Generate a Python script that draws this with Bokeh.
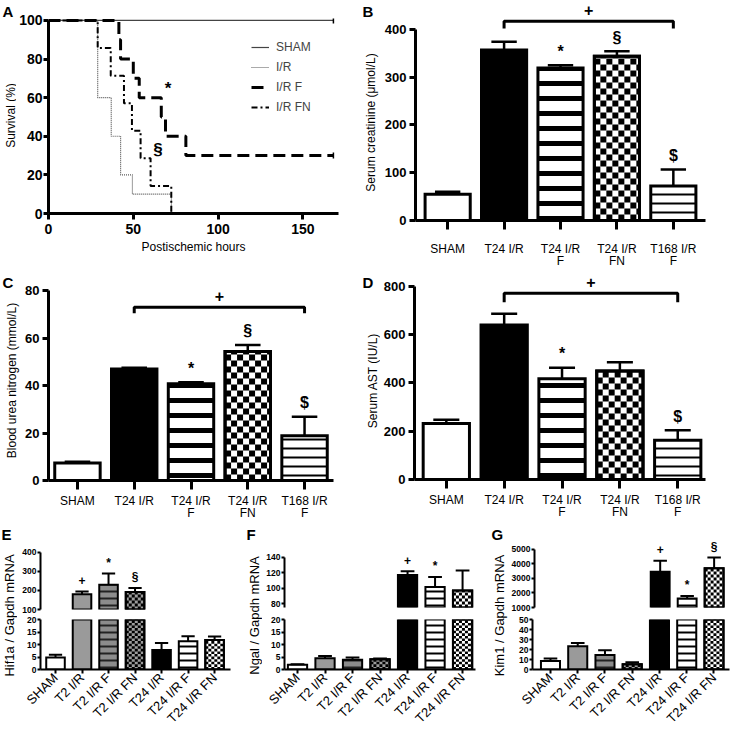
import math
from bokeh.plotting import figure
from bokeh.layouts import row, column
from bokeh.models import Range1d, FixedTicker
from bokeh.core.properties import value
from bokeh.embed import file_html
from bokeh.resources import INLINE

FONT = "Liberation Sans"
W_MAX, H_MAX = 732, 734
R1, R2 = 272, 524  # row boundaries


def px(v):
    return int(round(v))


# ---------------- data ----------------
# A: survival (%) vs postischemic hours
sham_hours = [0, 168]
sham_surv = [100, 100]
ir_hours = [0, 29, 37, 42.5, 49.5, 72.5]
ir_surv = [100, 60, 40, 20, 10, 0]
irf_hours = [0, 41.5, 42.5, 50, 53.5, 66.5, 69, 81, 168]
irf_surv = [100, 90, 80, 70, 60, 50, 40, 30, 30]
irfn_hours = [0, 29, 36.7, 44.5, 49.2, 54.3, 60.2, 72.4]
irfn_surv = [100, 85.7, 71.4, 57.1, 42.9, 28.6, 14.3, 0]
surv_marks = ["*", "§"]
surv_mark_hours = [70.5, 64.5]
surv_mark_surv = [65, 33]

# B-D
bd_groups = ["SHAM", "T24 I/R", "T24 I/R\nF", "T24 I/R\nFN", "T168 I/R\nF"]
creat_mean = [55, 357, 319, 344, 72]
creat_sem = [5, 17, 6, 10, 35]
creat_marks = ["", "", "*", "§", "$"]
creat_bracket = [402, 417]
bun_mean = [7.4, 47.0, 40.7, 54.3, 18.9]
bun_sem = [0.5, 0.5, 0.7, 2.8, 8.0]
bun_marks = ["", "", "*", "§", "$"]
bun_bracket = [70.5, 73]
ast_mean = [232, 640, 418, 450, 163]
ast_sem = [16, 47, 45, 36, 41]
ast_marks = ["", "", "*", "", "$"]
ast_bracket = [735, 772]

# E-G
qpcr_groups = ["SHAM", "T2 I/R", "T2 I/R F", "T2 I/R FN", "T24 I/R", "T24 I/R F", "T24 I/R FN"]
hif_mean = [4.8, 180, 230, 192, 7.8, 11.3, 11.8]
hif_sem = [1.1, 15, 59, 21, 2.8, 2.0, 1.4]
hif_marks = ["", "+", "*", "§", "", "", ""]
ngal_mean = [1.9, 4.5, 3.9, 4.1, 117, 101.5, 97]
ngal_sem = [0.2, 0.9, 0.9, 0.3, 5, 13, 26]
ngal_marks = ["", "", "", "", "+", "*", ""]
kim_mean = [8.6, 23.2, 14.4, 5.2, 3470, 1620, 3700]
kim_sem = [2.4, 3.3, 4.9, 2.0, 760, 180, 740]
kim_marks = ["", "", "", "", "+", "*", "§"]

# ---------------- styles ----------------
bd_styles = [
    dict(fill_color="white"),
    dict(fill_color="black"),
    dict(fill_color="white", hatch_pattern="horizontal_line", hatch_scale=15, hatch_weight=5, hatch_color="black"),
    dict(fill_color="white", checker=6, checker_color="black"),
    dict(fill_color="white", hatch_pattern="horizontal_line", hatch_scale=9, hatch_weight=2, hatch_color="black"),
]
qpcr_styles = [
    dict(fill_color="white"),
    dict(fill_color="#9a9a9a"),
    dict(fill_color="#8c8c8c", hatch_pattern="horizontal_line", hatch_scale=7, hatch_weight=2, hatch_color="#222222"),
    dict(fill_color="#9c9c9c", checker=3, checker_color="black"),
    dict(fill_color="black"),
    dict(fill_color="white", hatch_pattern="horizontal_line", hatch_scale=7, hatch_weight=2, hatch_color="black"),
    dict(fill_color="white", checker=3, checker_color="black"),
]


def no_align(p):
    if "frame_align" in p.properties():
        p.frame_align = False
    return p


def base_fig(box, frame, xr, yr, x_axis_location="below"):
    x0, y0, x1, y1 = box
    fx0, fy0, fx1, fy1 = frame
    p = figure(width=px(x1) - px(x0), height=px(y1) - px(y0), title=None,
               x_range=xr, y_range=yr, x_axis_location=x_axis_location,
               output_backend="svg", toolbar_location=None,
               min_border_left=px(fx0) - px(x0), min_border_right=px(x1) - px(fx1),
               min_border_top=px(fy0) - px(y0), min_border_bottom=px(y1) - px(fy1))
    no_align(p)
    p.outline_line_color = None
    p.grid.visible = False
    p.background_fill_color = "white"
    p.border_fill_color = "white"
    # pixel -> data conversion of the frame (used for checker squares)
    p.tags = [(xr.end - xr.start) / (px(fx1) - px(fx0)), (yr.end - yr.start) / (px(fy1) - px(fy0))]
    return p


def label_fig(x0, x1, y0, y1, letter_txt, letter_xy, ylabel, ylabel_xy, size="12px"):
    lab = figure(width=px(x1) - px(x0), height=px(y1) - px(y0), title=None,
                 x_range=Range1d(x0, x1), y_range=Range1d(y1, y0),
                 x_axis_location=None, y_axis_location=None,
                 min_border=0, min_border_left=0, min_border_right=0,
                 min_border_top=0, min_border_bottom=0,
                 output_backend="svg", toolbar_location=None)
    no_align(lab)
    lab.outline_line_color = None
    lab.grid.visible = False
    lab.border_fill_color = "white"
    lab.text(x=[letter_xy[0]], y=[letter_xy[1]], text=[letter_txt], text_align="left",
             text_baseline="top", text_font=value(FONT), text_font_style="bold",
             text_font_size="15px", text_color="black")
    lab.text(x=[ylabel_xy[0]], y=[ylabel_xy[1]], text=[ylabel], angle=math.pi / 2,
             text_align="center", text_baseline="middle", text_font=value(FONT),
             text_font_size=size, text_color="black")
    return lab


def style_axis(ax, line_w, tick_out, font_size, bold=True, standoff=3,
               label_size="12px", label_standoff=4):
    ax.axis_line_width = line_w
    ax.axis_line_color = "black"
    ax.major_tick_line_width = line_w
    ax.major_tick_line_color = "black"
    ax.major_tick_out = tick_out
    ax.major_tick_in = 0
    ax.minor_tick_line_color = None
    ax.major_label_standoff = standoff
    ax.major_label_text_font = FONT
    ax.major_label_text_font_size = font_size
    ax.major_label_text_font_style = "bold" if bold else "normal"
    ax.major_label_text_color = "black"
    ax.axis_label_text_font = FONT
    ax.axis_label_text_font_size = label_size
    ax.axis_label_text_font_style = "normal"
    ax.axis_label_text_color = "black"
    ax.axis_label_standoff = label_standoff


def mark_text(p, xs, ys, marks, size, offset):
    mk = [(x, y, m) for x, y, m in zip(xs, ys, marks) if m]
    if not mk:
        return
    p.text(x=[a[0] for a in mk], y=[a[1] for a in mk], text=[a[2] for a in mk],
           y_offset=offset, text_align="center", text_baseline="middle",
           text_font=value(FONT), text_font_style="bold", text_font_size=size,
           text_color="black")


def checker_quads(p, x, width, y_lo, y_hi, sq_px, color):
    dxpp, dypp = p.tags
    sx, sy = sq_px * dxpp, sq_px * dypp
    left0, right0 = x - width / 2, x + width / 2
    ncols = int(math.ceil(width / sx))
    nrows = int(math.ceil((y_hi - y_lo) / sy)) if y_hi > y_lo else 0
    L, R, B, T = [], [], [], []
    for r in range(nrows):
        for c in range(ncols):
            if (r + c) % 2 == 0:
                l = left0 + c * sx
                b = y_lo + r * sy
                L.append(l)
                R.append(min(l + sx, right0))
                B.append(b)
                T.append(min(b + sy, y_hi))
    if L:
        p.quad(left=L, right=R, bottom=B, top=T, fill_color=color, line_color=None)


def draw_bars(p, xs, means, sems, styles, width, lw, cap, elw, bottom=0, keep=None,
              chk_lo=0, chk_hi=None):
    idx = [i for i in range(len(xs)) if keep is None or keep(means[i])]
    for i in idx:
        kw = dict(styles[i])
        chk = kw.pop("checker", None)
        chk_col = kw.pop("checker_color", None)
        p.vbar(x=[xs[i]], top=[means[i]], bottom=bottom, width=width,
               line_color="black", line_width=lw, line_join="miter", **kw)
        if chk:
            hi = means[i] if chk_hi is None else min(means[i], chk_hi)
            checker_quads(p, xs[i], width, chk_lo, hi, chk, chk_col)
            p.vbar(x=[xs[i]], top=[means[i]], bottom=bottom, width=width, fill_color=None,
                   line_color="black", line_width=lw, line_join="miter")
    ex = [xs[i] for i in idx]
    em = [means[i] for i in idx]
    et = [means[i] + sems[i] for i in idx]
    if ex:
        p.segment(x0=ex, y0=em, x1=ex, y1=et, line_color="black", line_width=elw)
        p.segment(x0=[x - cap / 2 for x in ex], y0=et, x1=[x + cap / 2 for x in ex], y1=et,
                  line_color="black", line_width=elw)
    return [m + s for m, s in zip(means, sems)]


# ---------------- Panel A ----------------
labA = label_fig(0, 16, 0, R1, "A", (2, 2), "Survival (%)", (10, 115))
pA = base_fig((16, 0, 360, R1), (47, 18, 338, 213), Range1d(0, 171), Range1d(0, 101))
style_axis(pA.xaxis[0], 3, 6, "14px", True, 4, "12px", 3)
style_axis(pA.yaxis[0], 3, 5, "14px", True, 1)
pA.xaxis.ticker = FixedTicker(ticks=[0, 50, 100, 150])
pA.yaxis.ticker = FixedTicker(ticks=[0, 20, 40, 60, 80, 100])
pA.yaxis.bounds = (0, 100)
pA.xaxis.axis_label = "Postischemic hours"
pA.step(sham_hours, sham_surv, mode="after", line_color="#444444", line_width=1.2, legend_label="SHAM")
pA.step(ir_hours, ir_surv, mode="after", line_color="#555555", line_width=1.2, line_dash="1 1", legend_label="I/R")
pA.step(irf_hours, irf_surv, mode="after", line_color="black", line_width=3, line_dash="12 6", legend_label="I/R F")
pA.step(irfn_hours, irfn_surv, mode="after", line_color="black", line_width=2, line_dash="6 3 2 3", legend_label="I/R FN")
# censored survivors at the end of follow-up
pA.scatter(x=[sham_hours[-1], irf_hours[-1]], y=[sham_surv[-1], irf_surv[-1]], marker="dash",
           angle=math.pi / 2, size=6, line_color="black", line_width=1.5)
mark_text(pA, surv_mark_hours, surv_mark_surv, surv_marks, "17px", 0)
lg = pA.legend[0]
lg.location = (203, 98)
lg.label_text_font = FONT
lg.label_text_font_size = "12px"
lg.glyph_width = 18
lg.glyph_height = 16
lg.label_height = 16
lg.spacing = 4
lg.padding = 0
lg.margin = 0
lg.label_standoff = 7
lg.border_line_color = None
lg.background_fill_alpha = 0


# ---------------- Panels B-D ----------------
def bd_panel(box, frame, xr, y_end, yticks, means, sems, marks, bracket, x_standoff):
    p = base_fig(box, frame, Range1d(*xr), Range1d(0, y_end))
    xs = list(range(1, len(bd_groups) + 1))
    style_axis(p.yaxis[0], 3, 6, "13px", True, 3)
    style_axis(p.xaxis[0], 3, 9, "12px", False, x_standoff)
    p.yaxis.ticker = FixedTicker(ticks=yticks)
    p.yaxis.bounds = (0, yticks[-1])
    p.xaxis.ticker = FixedTicker(ticks=xs)
    p.xaxis.major_label_overrides = {x: g for x, g in zip(xs, bd_groups)}
    p.xaxis.major_label_text_line_height = 0.9
    tops = draw_bars(p, xs, means, sems, bd_styles, 0.8, 3, 0.45, 2.5)
    mark_text(p, xs, tops, marks, "16px", -14)
    bx0, bx1 = xs[1], xs[-1]
    p.line(x=[bx0, bx0, bx1, bx1], y=[bracket[0], bracket[1], bracket[1], bracket[0]],
           line_color="black", line_width=3)
    mark_text(p, [(bx0 + bx1) / 2], [bracket[1]], ["+"], "16px", -11)
    return p


labB = label_fig(360, 380, 0, R1, "B", (362, 2), "Serum creatinine (μmol/L)", (370, 122))
pB = bd_panel((380, 0, W_MAX, R1), (415, 5, 705, 220), (0.43, 5.57), 450, [0, 100, 200, 300, 400],
              creat_mean, creat_sem, creat_marks, creat_bracket, 12)
labC = label_fig(0, 20, R1, R2, "C", (2, R1 + 1), "Blood urea nitrogen (mmol/L)", (11, 380))
pC = bd_panel((20, R1, 360, R2), (48, 282, 333, 480), (0.49, 5.51), 83.4, [0, 20, 40, 60, 80],
              bun_mean, bun_sem, bun_marks, bun_bracket, 4)
labD = label_fig(360, 380, R1, R2, "D", (362, R1 + 1), "Serum AST (IU/L)", (372, 380))
pD = bd_panel((380, R1, W_MAX, R2), (413, 278, 705, 479), (0.45, 5.48), 833, [0, 200, 400, 600, 800],
              ast_mean, ast_sem, ast_marks, ast_bracket, 4)


# ---------------- Panels E-G ----------------
def qpcr_panel(cols, frame_x, xr_vals, letter_txt, ylabel, means, sems, marks,
               top_range, top_ticks, top_fy1, low_end, low_ticks):
    cx0, lx1, cx1 = cols
    fx0, fx1 = frame_x
    Y0, YS, Y1 = R2, 614, H_MAX
    lab = label_fig(cx0, lx1, Y0, Y1, letter_txt, (cx0 + 1, Y0 + 1), ylabel, (cx0 + 9, 615), "13px")

    xr = Range1d(*xr_vals)
    xs = list(range(1, len(qpcr_groups) + 1))
    top = base_fig((lx1, Y0, cx1, YS), (fx0, 540, fx1, top_fy1), xr, Range1d(*top_range),
                   x_axis_location=None)
    style_axis(top.yaxis[0], 2, 3, "8.5px", True, 1)
    top.yaxis.ticker = FixedTicker(ticks=top_ticks)
    top.yaxis.bounds = (top_range[0], top_ticks[-1])

    low = base_fig((lx1, YS, cx1, Y1), (fx0, 619, fx1, 677), xr, Range1d(0, low_end))
    style_axis(low.yaxis[0], 2, 3, "8.5px", True, 1)
    low.yaxis.ticker = FixedTicker(ticks=low_ticks)
    low.yaxis.bounds = (0, low_end)
    style_axis(low.xaxis[0], 2, 4, "13px", False, 2)
    low.xaxis.ticker = FixedTicker(ticks=xs)
    low.xaxis.major_label_overrides = {x: g for x, g in zip(xs, qpcr_groups)}
    low.xaxis.major_label_orientation = math.pi / 4

    lo = top_range[0]
    tops = draw_bars(top, xs, means, sems, qpcr_styles, 0.7, 2, 0.5, 2,
                     bottom=lo - (top_range[1] - lo) * 0.05, keep=lambda m: m > lo, chk_lo=lo)
    mark_text(top, xs, tops, marks, "12px", -11)
    draw_bars(low, xs, means, sems, qpcr_styles, 0.7, 2, 0.5, 2, chk_lo=0, chk_hi=low_end)
    return row(lab, column(top, low))


pE = qpcr_panel((0, 17, 245), (40, 230), (0.434, 7.6), "E", "Hif1a / Gapdh mRNA",
                hif_mean, hif_sem, hif_marks, (100, 463), [100, 200, 300, 400], 609, 20, [0, 5, 10, 15, 20])
pF = qpcr_panel((245, 262, 490), (284, 475), (0.527, 7.47), "F", "Ngal / Gapdh mRNA",
                ngal_mean, ngal_sem, ngal_marks, (74.8, 162), [80, 100, 120, 140], 607, 20, [0, 5, 10, 15, 20])
pG = qpcr_panel((490, 508, W_MAX), (532, 729), (0.34, 7.57), "G", "Kim1 / Gapdh mRNA",
                kim_mean, kim_sem, kim_marks, (1000, 5620), [1000, 2000, 3000, 4000, 5000], 607, 50,
                [0, 10, 20, 30, 40, 50])

layout = column(row(labA, pA, labB, pB), row(labC, pC, labD, pD), row(pE, pF, pG))

open("out.html", "w").write(file_html(layout, INLINE))
